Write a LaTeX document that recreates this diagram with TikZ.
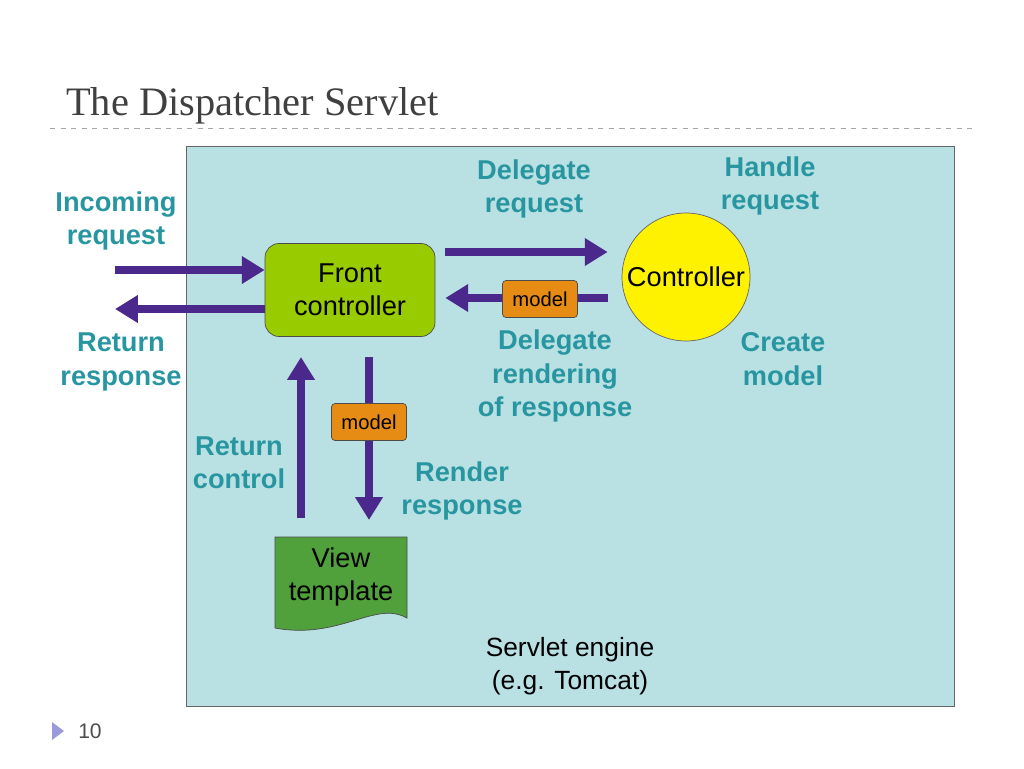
\documentclass[tikz,border=0pt]{standalone}
\usepackage{fontspec}
\setmainfont{Liberation Sans}
\newfontfamily\titlefont{Liberation Serif}
\usetikzlibrary{arrows.meta, positioning, calc}
\definecolor{panel}{RGB}{185,224,227}
\definecolor{lime}{RGB}{153,204,0}
\definecolor{flow}{RGB}{75,40,140}
\definecolor{label}{RGB}{40,150,160}
\definecolor{tag}{RGB}{230,140,20}
\definecolor{page}{RGB}{80,160,60}
\tikzset{
  flowarrow/.style={draw=flow, line width=4.2pt, -{Triangle[width=15pt,length=13pt]}},
  note/.style={text=label, font=\bfseries\fontsize{15.5}{19}\selectfont, align=center},
  tagbox/.style={draw=black!70, fill=tag, rounded corners=2pt, font=\fontsize{11.5}{13}\selectfont, minimum width=1.5cm, minimum height=0.74cm}
}
\begin{document}
\begin{tikzpicture}[x=0.02cm, y=-0.02cm]
    \useasboundingbox (0,0) rectangle (1024,768);
    % Title
    \node[anchor=base west, font=\titlefont\fontsize{23}{26}\selectfont, text=black!75] (title) at (60,115) {The Dispatcher Servlet};
    \draw[black!35, dashed] (50,128) -- (972,128);
    % Servlet engine
    \draw[black!60, fill=panel] (186,146) rectangle (954,706);
    \node[font=\fontsize{15}{18.5}\selectfont, align=center] (engine) at (570,666) {Servlet engine\\(e.g. Tomcat)};
    % Front controller
    \node[draw=black!70, fill=lime, rounded corners=8pt, minimum width=3.4cm, minimum height=1.86cm, align=center, font=\fontsize{15.5}{19}\selectfont] (front) at (350,290) {Front\\controller};
    % Controller
    \node[draw=black!60, fill=yellow, circle, minimum size=2.56cm, inner sep=0pt, font=\fontsize{15.5}{19}\selectfont] (ctrl) at (686,277) {Controller};
    % View template
    \fill[page, draw=black!70] (275,537) -- (407,537) -- (407,618) .. controls (375,600) and (340,640) .. (275,628) -- cycle;
    \node[align=center, font=\fontsize{15.5}{19}\selectfont] (view) at (341,577) {View\\template};
    % Connectors
    \coordinate (inL) at (115,270);
    \coordinate (outL) at (115,309);
    \draw[flowarrow] (inL) -- (front.west |- inL);
    \draw[flowarrow] (front.west |- outL) -- (outL);
    \draw[flowarrow] ($(front.east)+(10,-38)$) -- ($(ctrl.west)+(-14,-25)$);
    \draw[flowarrow] ($(ctrl.west)+(-14,21)$) -- ($(front.east)+(10,8)$);
    \node[tagbox] (model1) at (540,299) {model};
    \draw[flowarrow] (369,357) -- (369,520);
    \node[tagbox] (model2) at (369,422) {model};
    \draw[flowarrow] (301,518) -- (301,357);
    % Labels
    \node[note] (incoming) at (116,221) {Incoming\\request};
    \node[note] (retresp) at (121,362) {Return\\response};
    \node[note] (delegate) at (534,189) {Delegate\\request};
    \node[note] (handle) at (770,186) {Handle\\request};
    \node[note] (create) at (783,359) {Create\\model};
    \node[note] (delrend) at (555,376) {Delegate\\rendering\\of response};
    \node[note] (retctrl) at (239,463) {Return\\control};
    \node[note] (render) at (462,491) {Render\\response};
    % Footer
    \fill[black!35!blue!40] (52,722) -- (64,731) -- (52,740) -- cycle;
    \node[font=\fontsize{12}{14}\selectfont, text=black!70] (pagenum) at (90,731) {10};
\end{tikzpicture}
\end{document}
